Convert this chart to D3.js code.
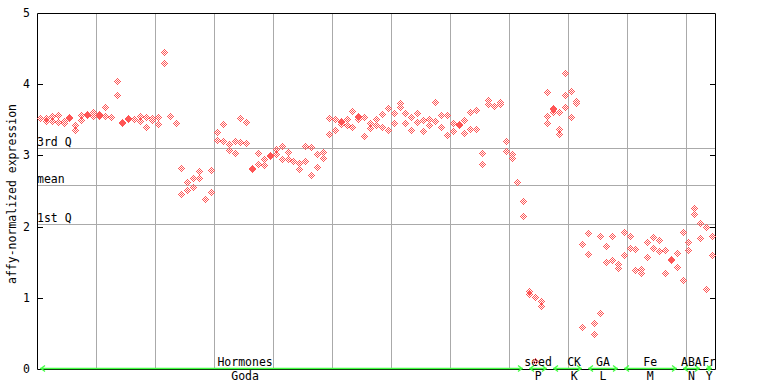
<!DOCTYPE html>
<html><head><meta charset="utf-8">
<script src="https://cdn.jsdelivr.net/npm/d3@7"></script>
<style>
body{margin:0;background:#fff}
svg{display:block}
text{font-family:"DejaVu Sans Mono",monospace;font-size:11.5px;fill:#000}
</style>
</head><body>
<svg id="c" width="768" height="384"></svg>
<script>
// ---- data (one inner array per sample: replicate values) ----
const godaValues = [
 [3.53,3.52],[3.53,3.48],[3.55,3.48],[3.57,3.47],[3.49,3.46],[3.54,3.52],[3.43,3.36],[3.57,3.50],
 [3.58,3.57],[3.61,3.55],[3.58,3.57,3.55],[3.68,3.55],[3.54],[4.05,3.85],[3.47,3.46],[3.52,3.51],
 [3.51],[3.55,3.49],[3.54,3.40],[3.53,3.50],[3.54,3.44],[4.45,4.30],[3.56,3.55],[3.46,3.45],
 [2.82,2.46],[2.63,2.51],[2.68,2.55],[2.78,2.68],[2.39],[2.79,2.48],[3.33,3.22],[3.44,3.20],
 [3.16,3.07],[3.20,3.03],[3.53,3.19],[3.47,3.17],[2.83,2.81],[3.03,2.88],[2.95,2.86],[3.00,2.99],
 [3.09,3.02],[3.13,2.95],[3.05,2.95],[2.92],[2.89,2.81],[3.13,2.92],[3.12,2.72],[3.02,2.84],
 [3.05,2.96],[3.53,3.30],[3.51,3.36],[3.48,3.47,3.44],[3.51,3.43],[3.62,3.40],[3.55,3.54,3.51],[3.54,3.27],
 [3.46,3.39],[3.51,3.43],[3.58,3.40],[3.67,3.36],[3.60,3.46],[3.74,3.68],[3.60,3.46],[3.54,3.36],
 [3.60,3.47],[3.50,3.34],[3.51,3.43],[3.75,3.48],[3.57,3.40],[3.57,3.29],[3.46,3.34],[3.44,3.43],
 [3.50,3.31],[3.61,3.37],[3.64,3.37],[3.03,2.88],[3.78,3.72],[3.70,3.69],[3.75,3.72],[3.20,3.06],
 [3.02,2.96],[2.63,2.62],[2.36,2.15]
];
const seedValues = [[1.09,1.05],[1.01,0.11],[0.96,0.89],[3.89,3.55,3.46]];
const ckValues   = [[3.66,3.65,3.61],[3.61,3.37,3.30],[4.16,3.85,3.68],[3.91,3.54],[3.77,3.76,3.74],[1.76,0.59]];
const gaValues   = [[1.91,1.62],[0.64,0.49],[1.87,0.78],[1.73,1.50],[1.87,1.53],[1.48,1.42]];
const feValues   = [[1.93,1.60],[1.87,1.70],[1.69,1.39],[1.41,1.35],[1.79,1.58],[1.86,1.70],[1.81,1.66],[1.67,1.35],[1.54,1.53],[1.63,1.43]];
const abaValues  = [[1.93,1.25],[1.79,1.67],[2.26,2.18],[2.05,1.84]];
const frValues   = [[1.99,1.12],[1.87,1.60]];

const groupTop    = ["Hormones","seed","CK","GA","Fe","ABA","Fr"];
const groupBottom = ["Goda","P","K","L","M","N","Y"];
const groupValues = [godaValues,seedValues,ckValues,gaValues,feValues,abaValues,frValues];
// label anchor (sample index units) where it differs from the group centre
const groupLabelAt = [34.8,null,90.6,null,null,null,null];

const yTicks = [0,1,2,3,4,5];
const refLabels = ["3rd Q","mean","1st Q"];
const refValues = [3.104,2.584,2.035];
const gridEvery = 10;

// ---- layout ----
const W=768,H=384;
const L=37,R=715,T=13,B=369;
const red="#ff5555", gray="#aaaaaa", green="#44ff44";

const nSamples = d3.sum(groupValues,g=>g.length);
const x = d3.scaleLinear().domain([-0.5,nSamples-0.5]).range([L,R]);
const y = d3.scaleLinear().domain([0,5]).range([B,T]);

const svg = d3.select("#c");
svg.append("rect").attr("width",W).attr("height",H).attr("fill","#fff");

// vertical grid
const gridIdx = d3.range(gridEvery-0.5, nSamples-0.5, gridEvery);
svg.append("g").selectAll("line").data(gridIdx).join("line")
  .attr("x1",d=>Math.round(x(d))+0.5).attr("x2",d=>Math.round(x(d))+0.5)
  .attr("y1",T).attr("y2",B).attr("stroke",gray).attr("stroke-width",1);

// reference lines
const ref = svg.append("g");
ref.selectAll("line").data(refValues).join("line")
  .attr("x1",L).attr("x2",R)
  .attr("y1",d=>Math.round(y(d))+0.5).attr("y2",d=>Math.round(y(d))+0.5)
  .attr("stroke",gray).attr("stroke-width",1);
ref.selectAll("text").data(refValues).join("text")
  .attr("x",L).attr("y",d=>Math.round(y(d))-2)
  .text((d,i)=>refLabels[i]);

// frame
const fr = svg.append("g").attr("stroke","#000").attr("stroke-width",1).attr("fill","none");
fr.append("path").attr("d",`M${L+0.5},${T+0.5}H${R+0.5}V${B+0.5}H${L+0.5}Z`);

// ticks (left and right, inward)
svg.append("g").selectAll("path").data(yTicks.slice(1,-1)).join("path")
  .attr("d",d=>{const yy=Math.round(y(d))+0.5;return `M${L},${yy}h6M${R+1},${yy}h-6`;})
  .attr("stroke","#000").attr("stroke-width",1);
svg.append("g").selectAll("text").data(yTicks).join("text")
  .attr("x",26.5).attr("y",d=>Math.round(y(d))+4)
  .attr("text-anchor","middle").text(d=>d);

// y title
svg.append("text").attr("transform",`translate(16,${(T+B)/2+3}) rotate(-90)`)
  .attr("text-anchor","middle").text("affy-normalized expression");

// group segments & labels
let start=0;
const gdata = groupValues.map((g,i)=>{const s=start; start+=g.length; return {s,e:start-1,i};});
const ga = svg.append("g");
ga.selectAll("path").data(gdata).join("path")
  .attr("d",d=>{const x1=Math.round(x(d.s)),x2=Math.round(x(d.e)),yy=368.5;
     return `M${x1},${yy}H${x2}M${x1+5},${yy-3}L${x1+1},${yy}L${x1+5},${yy+3}M${x2-5},${yy-3}L${x2-1},${yy}L${x2-5},${yy+3}`;})
  .attr("stroke",green).attr("stroke-width",1.3).attr("fill","none");
const labX = d=> x(groupLabelAt[d.i]!=null ? groupLabelAt[d.i] : (d.s+d.e)/2);
ga.selectAll("text.top").data(gdata).join("text").attr("class","top")
  .attr("x",labX).attr("y",366).attr("text-anchor","middle").text(d=>groupTop[d.i]);
ga.selectAll("text.bot").data(gdata).join("text").attr("class","bot")
  .attr("x",labX).attr("y",380).attr("text-anchor","middle").text(d=>groupBottom[d.i]);

// points: checkered diamonds
const pts=[]; let idx=0;
groupValues.forEach(g=>g.forEach(col=>{col.forEach(v=>pts.push({i:idx,v})); idx++;}));
const cells=[];
for(let dx=-3;dx<=3;dx++)for(let dy=-3;dy<=3;dy++){const m=Math.abs(dx)+Math.abs(dy); if(m===1||m===3)cells.push([dx,dy]);}
svg.append("g").selectAll("path").data(pts).join("path")
  .attr("d",p=>{const cx=Math.round(x(p.i)),cy=Math.round(y(p.v));
     return cells.map(([dx,dy])=>`M${cx+dx},${cy+dy}h1v1h-1z`).join("");})
  .attr("fill",red).attr("shape-rendering","crispEdges");
</script>
</body></html>
